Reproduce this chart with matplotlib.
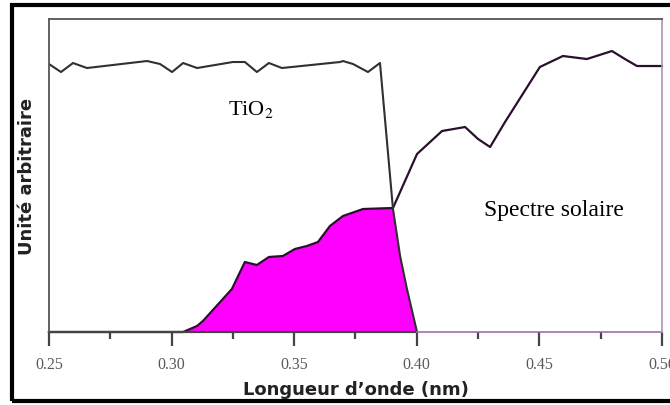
import numpy as np
import matplotlib
matplotlib.use("Agg")
import matplotlib.pyplot as plt
from matplotlib.patches import Rectangle
from matplotlib.ticker import MultipleLocator

plt.rcParams["mathtext.fontset"] = "stix"

# absorption du TiO2 (unite arbitraire)
tio2_x = [0.250, 0.2549, 0.2598, 0.2655, 0.290, 0.2953, 0.3002, 0.3047, 0.3104,
          0.325, 0.3299, 0.3348, 0.3397, 0.345, 0.3687, 0.3699, 0.374, 0.3801,
          0.385, 0.3903, 0.3932, 0.396, 0.4001]
tio2_y = [268, 260, 269, 264, 271, 268, 260, 269, 264,
          270, 270, 260, 269, 264, 270, 271, 268, 260,
          269, 123, 76, 43, 0]

# spectre solaire
sol_x = [0.25, 0.3047, 0.3104, 0.3128, 0.3246, 0.3299, 0.3348, 0.3397, 0.3454,
         0.3503, 0.3552, 0.3597, 0.3646, 0.3699, 0.3781, 0.3903, 0.4001, 0.4103,
         0.4197, 0.425, 0.4299, 0.436, 0.4502, 0.4596, 0.4694, 0.4796, 0.4849,
         0.4898, 0.500]
sol_y = [0, 0, 6, 11, 43, 70, 67, 75, 76,
         83, 86, 90, 106, 116, 123, 124, 178, 201,
         205, 193, 185, 210, 265, 276, 273, 281, 273,
         266, 266]

xticks = [0.25, 0.30, 0.35, 0.40, 0.45, 0.50]
xtick_labels = ["0.25", "0.30", "0.35", "0.40", "0.45", "0.50"]

fig = plt.figure(figsize=(6.7, 4.06), dpi=100)
ax = fig.add_axes([0.0731, 0.1798, 0.9149, 0.7709])

# zone de recouvrement
xx = np.linspace(0.3047, 0.4001, 600)
overlap = np.minimum(np.interp(xx, sol_x, sol_y), np.interp(xx, tio2_x, tio2_y))
ax.fill_between(xx, 0, overlap, color="#ff00ff", lw=0)

ax.plot(sol_x, sol_y, color="#2a0f2e", lw=1.6, clip_on=False)
ax.plot(tio2_x, tio2_y, color="#303030", lw=1.5)

ax.set_xlim(0.25, 0.50)
ax.set_ylim(0, 313)
ax.set_yticks([])
ax.set_xticks(xticks)
ax.set_xticklabels(xtick_labels, family="Liberation Serif", fontsize=11.5, color="#5a5a5a")
ax.xaxis.set_minor_locator(MultipleLocator(0.025))
ax.tick_params(axis="x", which="major", direction="out", length=10, width=1.6, color="#444444", pad=7)
ax.tick_params(axis="x", which="minor", direction="out", length=5, width=1.6, color="#444444")

for s in ["left", "top"]:
    ax.spines[s].set_color("#555555")
    ax.spines[s].set_linewidth(1.3)
ax.spines["bottom"].set_visible(False)
ax.axhline(0, xmin=0, xmax=0.6, color="#444444", lw=1.6, clip_on=False)
ax.axhline(0, xmin=0.6, xmax=1, color="#a070a8", lw=1.2, clip_on=False)
ax.spines["right"].set_color("#b090b8")
ax.spines["right"].set_linewidth(1.2)

ax.text(0.3325, 224, "TiO$_2$", family="Liberation Serif", fontsize=16, ha="center", va="center")
ax.text(0.4560, 123, "Spectre solaire", family="Liberation Serif", fontsize=17, ha="center", va="center")

ax.set_xlabel("Longueur d\u2019onde (nm)", fontsize=13, fontweight="bold", color="#222222", labelpad=6)
ax.set_ylabel("Unit\u00e9 arbitraire", fontsize=13, fontweight="bold", color="#222222", labelpad=9)

fig.patches.append(Rectangle((0.0185, 0.01), 1.1, 0.975, transform=fig.transFigure,
                             fill=False, edgecolor="black", lw=3))

fig.savefig("out.png", dpi=100)
